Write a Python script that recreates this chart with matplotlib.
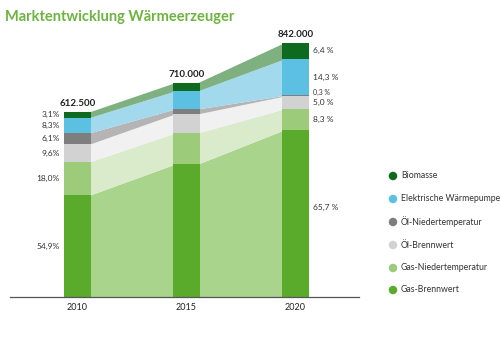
import matplotlib
matplotlib.use("Agg")
import matplotlib.pyplot as plt
from matplotlib.patches import Ellipse

plt.rcParams['font.family'] = ['Lato', 'DejaVu Sans']

years = ["2010", "2015", "2020"]
totals = [612500, 710000, 842000]
totals_lbl = ["612.500", "710.000", "842.000"]

# shares in percent, bottom -> top
series = ["Gas-Brennwert", "Gas-Niedertemperatur", "Öl-Brennwert",
          "Öl-Niedertemperatur", "Elektrische Wärmepumpe", "Biomasse"]
share_2010 = [54.9, 18.0, 9.6, 6.1, 8.3, 3.1]
share_2015 = [62.0, 14.5, 8.9, 2.3, 8.4, 3.9]
share_2020 = [65.7, 8.3, 5.0, 0.3, 14.3, 6.4]
lbl_2010 = ["54,9%", "18,0%", "9,6%", "6,1%", "8,3%", "3,1%"]
lbl_2020 = ["65,7 %", "8,3 %", "5,0 %", "0,3 %", "14,3 %", "6,4 %"]

bar_cols = ["#5aab2b", "#9ccc79", "#d2d2d2", "#7e7e7e", "#5cc0e2", "#0e6a1e"]
band_cols = ["#a9d48b", "#d9ebca", "#f1f1f1", "#b4b4b4", "#a2d9ec", "#7fb07f"]

W, H = 500, 353
fig = plt.figure(figsize=(W / 100, H / 100), dpi=100)

# axes placed in pixel terms: baseline at y=297, bars at x=77.5/187/295.5
px = 109.0
x0 = -67.5 / px
x1 = 2 + (359 - 295.5) / px
ymax = 900000
scale = 185.0 / 612500
ax_h = ymax * scale
ax = fig.add_axes([10 / W, (H - 297) / H, 349 / W, ax_h / H])
ax.set_xlim(x0, x1)
ax.set_ylim(0, ymax)
ax.axis('off')
ax.plot([x0, x1], [0, 0], color="#555555", lw=0.9, clip_on=False, zorder=5)

bw = 27 / px
shares = [share_2010, share_2015, share_2020]
levels = []
for t, s in zip(totals, shares):
    cum = [0]
    for v in s:
        cum.append(cum[-1] + t * v / 100.0)
    levels.append(cum)

# bands between bars (slight overlap under the bars to avoid gaps)
for i in range(2):
    xa = i + bw / 2 - 0.02
    xb = i + 1 - bw / 2 + 0.02
    for k in range(len(series)):
        ax.fill_between([xa, xb], [levels[i][k], levels[i + 1][k]],
                        [levels[i][k + 1], levels[i + 1][k + 1]],
                        color=band_cols[k], lw=0, zorder=1)

# bars
for i in range(3):
    for k in range(len(series)):
        ax.bar(i, levels[i][k + 1] - levels[i][k], bottom=levels[i][k],
               width=bw, color=bar_cols[k], lw=0, zorder=2)
    ax.text(i, totals[i] + 8 / scale, totals_lbl[i], ha='center', va='center',
            fontsize=7, fontweight='bold', color="#222222")
    ax.text(i, -10 / scale, years[i], ha='center', va='center',
            fontsize=6.5, color="#222222")

# percent labels
for k in range(len(series)):
    y = (levels[0][k] + levels[0][k + 1]) / 2
    ax.text(-17.5 / px, y, lbl_2010[k], ha='right', va='center',
            fontsize=6, color="#333333")
    y = (levels[2][k] + levels[2][k + 1]) / 2
    if lbl_2020[k] == "0,3 %":
        y += 3 / scale
        fs = 5
    else:
        fs = 6
    if k == 0:
        y += 6 / scale
    ax.text(2 + 17.5 / px, y, lbl_2020[k], ha='left', va='center',
            fontsize=fs, color="#333333")

# legend
leg_y = [176, 199, 222, 245, 268, 290]
for k in range(len(series)):
    j = len(series) - 1 - k
    yy = 1 - leg_y[j] / H
    fig.patches.append(Ellipse((393 / W, yy), 8.5 / W, 8.5 / H,
                               transform=fig.transFigure,
                               color=bar_cols[k], lw=0))
    fig.text(401 / W, yy, series[k], ha='left', va='center', fontsize=6.3,
             color="#333333")

fig.text(5 / W, 1 - 17 / H, "Marktentwicklung Wärmeerzeuger", ha='left',
         va='center', fontsize=10.5, fontweight='bold', color="#6db33f")

fig.savefig("out.png", dpi=100)
